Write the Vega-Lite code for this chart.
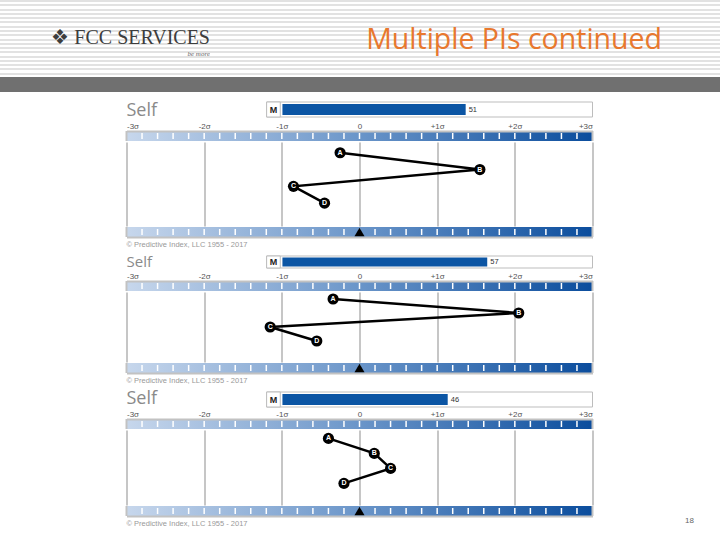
{
  "$schema": "https://vega.github.io/schema/vega-lite/v6.json",
  "background": "white",
  "padding": 0,
  "title": {"text": "18", "orient": "bottom", "anchor": "end", "offset": -11, "dx": -26, "fontSize": 8, "font": "Liberation Sans", "fontWeight": "normal", "color": "#666666"},
  "config": {"view": {"stroke": null}, "font": "Liberation Sans"},
  "datasets": {
    "ticks": [{"t": -2.8}, {"t": -2.6}, {"t": -2.4}, {"t": -2.2}, {"t": -2}, {"t": -1.8}, {"t": -1.6}, {"t": -1.4}, {"t": -1.2}, {"t": -1}, {"t": -0.8}, {"t": -0.6}, {"t": -0.4}, {"t": -0.2}, {"t": 0}, {"t": 0.2}, {"t": 0.4}, {"t": 0.6}, {"t": 0.8}, {"t": 1}, {"t": 1.2}, {"t": 1.4}, {"t": 1.6}, {"t": 1.8}, {"t": 2}, {"t": 2.2}, {"t": 2.4}, {"t": 2.6}, {"t": 2.8}],
    "edges": [{"t": -3}, {"t": 3}]
  },
  "spacing": 9,
  "center": true,
  "vconcat": [
    {
      "spacing": 0,
      "hconcat": [
        {
          "width": 210, "height": 92,
          "view": {"stroke": null, "fill": {"gradient": "linear", "x1": 0, "y1": 0, "x2": 0, "y2": 1, "stops": [
            {"offset":0,"color":"#e2e2e2"},{"offset":0.0217,"color":"#e2e2e2"},{"offset":0.0217,"color":"#ffffff"},{"offset":0.0465,"color":"#ffffff"},
            {"offset":0.0465,"color":"#e2e2e2"},{"offset":0.0683,"color":"#e2e2e2"},{"offset":0.0683,"color":"#ffffff"},{"offset":0.0930,"color":"#ffffff"},
            {"offset":0.0930,"color":"#e2e2e2"},{"offset":0.1148,"color":"#e2e2e2"},{"offset":0.1148,"color":"#ffffff"},{"offset":0.1396,"color":"#ffffff"},
            {"offset":0.1396,"color":"#e2e2e2"},{"offset":0.1613,"color":"#e2e2e2"},{"offset":0.1613,"color":"#ffffff"},{"offset":0.1861,"color":"#ffffff"},
            {"offset":0.1861,"color":"#e2e2e2"},{"offset":0.2078,"color":"#e2e2e2"},{"offset":0.2078,"color":"#ffffff"},{"offset":0.2326,"color":"#ffffff"},
            {"offset":0.2326,"color":"#e2e2e2"},{"offset":0.2543,"color":"#e2e2e2"},{"offset":0.2543,"color":"#ffffff"},{"offset":0.2791,"color":"#ffffff"},
            {"offset":0.2791,"color":"#e2e2e2"},{"offset":0.3009,"color":"#e2e2e2"},{"offset":0.3009,"color":"#ffffff"},{"offset":0.3257,"color":"#ffffff"},
            {"offset":0.3257,"color":"#e2e2e2"},{"offset":0.3474,"color":"#e2e2e2"},{"offset":0.3474,"color":"#ffffff"},{"offset":0.3722,"color":"#ffffff"},
            {"offset":0.3722,"color":"#e2e2e2"},{"offset":0.3939,"color":"#e2e2e2"},{"offset":0.3939,"color":"#ffffff"},{"offset":0.4187,"color":"#ffffff"},
            {"offset":0.4187,"color":"#e2e2e2"},{"offset":0.4404,"color":"#e2e2e2"},{"offset":0.4404,"color":"#ffffff"},{"offset":0.4652,"color":"#ffffff"},
            {"offset":0.4652,"color":"#e2e2e2"},{"offset":0.4870,"color":"#e2e2e2"},{"offset":0.4870,"color":"#ffffff"},{"offset":0.5117,"color":"#ffffff"},
            {"offset":0.5117,"color":"#e2e2e2"},{"offset":0.5335,"color":"#e2e2e2"},{"offset":0.5335,"color":"#ffffff"},{"offset":0.5583,"color":"#ffffff"},
            {"offset":0.5583,"color":"#e2e2e2"},{"offset":0.5800,"color":"#e2e2e2"},{"offset":0.5800,"color":"#ffffff"},{"offset":0.6048,"color":"#ffffff"},
            {"offset":0.6048,"color":"#e2e2e2"},{"offset":0.6265,"color":"#e2e2e2"},{"offset":0.6265,"color":"#ffffff"},{"offset":0.6513,"color":"#ffffff"},
            {"offset":0.6513,"color":"#e2e2e2"},{"offset":0.6730,"color":"#e2e2e2"},{"offset":0.6730,"color":"#ffffff"},{"offset":0.6978,"color":"#ffffff"},
            {"offset":0.6978,"color":"#e2e2e2"},{"offset":0.7196,"color":"#e2e2e2"},{"offset":0.7196,"color":"#ffffff"},{"offset":0.7443,"color":"#ffffff"},
            {"offset":0.7443,"color":"#e2e2e2"},{"offset":0.7661,"color":"#e2e2e2"},{"offset":0.7661,"color":"#ffffff"},{"offset":0.7909,"color":"#ffffff"},
            {"offset":0.7909,"color":"#e2e2e2"},{"offset":0.8126,"color":"#e2e2e2"},{"offset":0.8126,"color":"#ffffff"},{"offset":0.8370,"color":"#ffffff"},
            {"offset":0.8370,"color":"#707070"},{"offset":1,"color":"#707070"}]}},
          "title": {"text": "❖ FCC SERVICES", "subtitle": "be more", "anchor": "end", "frame": "group", "offset": -57, "font": "Liberation Serif", "fontSize": 20, "fontWeight": "normal", "color": "#3d3d3d", "subtitleFont": "Liberation Serif", "subtitleFontSize": 7, "subtitleFontStyle": "italic", "subtitleColor": "#666666", "subtitlePadding": 2},
          "data": {"values": [{"z": 0}]},
          "mark": {"type": "text", "text": ""},
          "encoding": {}
        },
        {
          "width": 510, "height": 92,
          "view": {"stroke": null, "fill": {"gradient": "linear", "x1": 0, "y1": 0, "x2": 0, "y2": 1, "stops": [
            {"offset":0,"color":"#e2e2e2"},{"offset":0.0217,"color":"#e2e2e2"},{"offset":0.0217,"color":"#ffffff"},{"offset":0.0465,"color":"#ffffff"},
            {"offset":0.0465,"color":"#e2e2e2"},{"offset":0.0683,"color":"#e2e2e2"},{"offset":0.0683,"color":"#ffffff"},{"offset":0.0930,"color":"#ffffff"},
            {"offset":0.0930,"color":"#e2e2e2"},{"offset":0.1148,"color":"#e2e2e2"},{"offset":0.1148,"color":"#ffffff"},{"offset":0.1396,"color":"#ffffff"},
            {"offset":0.1396,"color":"#e2e2e2"},{"offset":0.1613,"color":"#e2e2e2"},{"offset":0.1613,"color":"#ffffff"},{"offset":0.1861,"color":"#ffffff"},
            {"offset":0.1861,"color":"#e2e2e2"},{"offset":0.2078,"color":"#e2e2e2"},{"offset":0.2078,"color":"#ffffff"},{"offset":0.2326,"color":"#ffffff"},
            {"offset":0.2326,"color":"#e2e2e2"},{"offset":0.2543,"color":"#e2e2e2"},{"offset":0.2543,"color":"#ffffff"},{"offset":0.2791,"color":"#ffffff"},
            {"offset":0.2791,"color":"#e2e2e2"},{"offset":0.3009,"color":"#e2e2e2"},{"offset":0.3009,"color":"#ffffff"},{"offset":0.3257,"color":"#ffffff"},
            {"offset":0.3257,"color":"#e2e2e2"},{"offset":0.3474,"color":"#e2e2e2"},{"offset":0.3474,"color":"#ffffff"},{"offset":0.3722,"color":"#ffffff"},
            {"offset":0.3722,"color":"#e2e2e2"},{"offset":0.3939,"color":"#e2e2e2"},{"offset":0.3939,"color":"#ffffff"},{"offset":0.4187,"color":"#ffffff"},
            {"offset":0.4187,"color":"#e2e2e2"},{"offset":0.4404,"color":"#e2e2e2"},{"offset":0.4404,"color":"#ffffff"},{"offset":0.4652,"color":"#ffffff"},
            {"offset":0.4652,"color":"#e2e2e2"},{"offset":0.4870,"color":"#e2e2e2"},{"offset":0.4870,"color":"#ffffff"},{"offset":0.5117,"color":"#ffffff"},
            {"offset":0.5117,"color":"#e2e2e2"},{"offset":0.5335,"color":"#e2e2e2"},{"offset":0.5335,"color":"#ffffff"},{"offset":0.5583,"color":"#ffffff"},
            {"offset":0.5583,"color":"#e2e2e2"},{"offset":0.5800,"color":"#e2e2e2"},{"offset":0.5800,"color":"#ffffff"},{"offset":0.6048,"color":"#ffffff"},
            {"offset":0.6048,"color":"#e2e2e2"},{"offset":0.6265,"color":"#e2e2e2"},{"offset":0.6265,"color":"#ffffff"},{"offset":0.6513,"color":"#ffffff"},
            {"offset":0.6513,"color":"#e2e2e2"},{"offset":0.6730,"color":"#e2e2e2"},{"offset":0.6730,"color":"#ffffff"},{"offset":0.6978,"color":"#ffffff"},
            {"offset":0.6978,"color":"#e2e2e2"},{"offset":0.7196,"color":"#e2e2e2"},{"offset":0.7196,"color":"#ffffff"},{"offset":0.7443,"color":"#ffffff"},
            {"offset":0.7443,"color":"#e2e2e2"},{"offset":0.7661,"color":"#e2e2e2"},{"offset":0.7661,"color":"#ffffff"},{"offset":0.7909,"color":"#ffffff"},
            {"offset":0.7909,"color":"#e2e2e2"},{"offset":0.8126,"color":"#e2e2e2"},{"offset":0.8126,"color":"#ffffff"},{"offset":0.8370,"color":"#ffffff"},
            {"offset":0.8370,"color":"#707070"},{"offset":1,"color":"#707070"}]}},
          "title": {"text": "Multiple PIs continued", "anchor": "end", "frame": "group", "offset": -54, "dx": -58, "font": "Open Sans", "fontSize": 28.5, "fontWeight": "normal", "color": "#E8782E"},
          "data": {"values": [{"z": 0}]},
          "mark": {"type": "text", "text": ""},
          "encoding": {}
        }
      ]
    },
    {
      "spacing": 5,
      "center": true,
      "vconcat": [
        {
          "spacing": 2,
          "vconcat": [
            {
              "width": 466, "height": 15,
              "title": {"text": "Self", "anchor": "start", "frame": "group", "offset": -18, "font": "Open Sans", "fontSize": 18, "fontWeight": "normal", "color": "#8a8a8a"},
              "data": {"values": [{"m": 51}]},
              "layer": [
                {"mark": {"type": "rect", "fill": "white", "stroke": "#bdbdbd", "strokeWidth": 1}, "encoding": {"x": {"datum": -4.4, "type": "quantitative", "scale": {"domain": [-43.4, 86.3], "nice": false, "zero": false}, "axis": null}, "x2": {"datum": 86.3}}},
                {"mark": {"type": "rect", "fill": "white", "stroke": "#bdbdbd", "strokeWidth": 1}, "encoding": {"x": {"datum": -4.4, "type": "quantitative", "axis": null}, "x2": {"datum": -0.6}}},
                {"mark": {"type": "text", "text": "M", "fontSize": 9, "fontWeight": "bold", "color": "#222222"}, "encoding": {"x": {"datum": -2.5, "type": "quantitative", "axis": null}}},
                {"mark": {"type": "rule", "color": "#0b55a4", "strokeWidth": 11}, "encoding": {"x": {"field": "m", "type": "quantitative", "axis": null}, "x2": {"datum": 0}}},
                {"mark": {"type": "text", "align": "left", "dx": 3, "fontSize": 7.5, "color": "#333333"}, "encoding": {"x": {"field": "m", "type": "quantitative", "axis": null}, "text": {"field": "m", "type": "quantitative"}}}
              ]
            },
            {
              "spacing": 0,
              "vconcat": [
                {
                  "width": 466, "height": 10,
                  "view": {"stroke": null, "fill": {"gradient": "linear", "x1": 0, "y1": 0, "x2": 1, "y2": 0, "stops": [{"offset": 0, "color": "#c7d7ec"}, {"offset": 0.5, "color": "#6a95c9"}, {"offset": 1, "color": "#0b4d9d"}]}},
                  "encoding": {"x": {"field": "t", "type": "quantitative", "scale": {"domain": [-3, 3], "nice": false, "zero": false}, "axis": {"orient": "top", "values": [-3, -2, -1, 0, 1, 2, 3], "labelExpr": "datum.value == 0 ? '0' : (datum.value > 0 ? '+' : '') + datum.value + 'σ'", "labelFlush": true, "ticks": false, "grid": false, "domainColor": "#c2c2c2", "domainWidth": 2, "labelFontSize": 8, "labelColor": "#555555", "labelPadding": 1, "title": null}}},
                  "layer": [
                    {"data": {"name": "ticks"}, "mark": {"type": "tick", "color": "white", "size": 6, "thickness": 1.5, "opacity": 1}},
                    {"data": {"name": "edges"}, "mark": {"type": "rule", "color": "#c2c2c2", "strokeWidth": 2}}
                  ]
                },
                {
                  "width": 466, "height": 84,
                  "data": {"values": [{"factor": "A", "sigma": -0.25}, {"factor": "B", "sigma": 1.55}, {"factor": "C", "sigma": -0.85}, {"factor": "D", "sigma": -0.45}]},
                  "encoding": {
                    "x": {"field": "sigma", "type": "quantitative", "scale": {"domain": [-3, 3], "nice": false, "zero": false}, "axis": {"values": [-3, -2, -1, 0, 1, 2, 3], "grid": true, "gridColor": "#c6c6c6", "gridWidth": 2, "labels": false, "ticks": false, "domain": false, "title": null}},
                    "y": {"field": "factor", "type": "ordinal", "scale": {"type": "point", "padding": 1.24, "align": 0.32}, "axis": null}
                  },
                  "layer": [
                    {"mark": {"type": "line", "color": "black", "strokeWidth": 2.5}, "encoding": {"order": {"field": "factor", "type": "ordinal"}}},
                    {"mark": {"type": "circle", "size": 125, "color": "black", "opacity": 1}},
                    {"mark": {"type": "text", "color": "white", "fontSize": 7, "fontWeight": "bold"}, "encoding": {"text": {"field": "factor"}}}
                  ]
                },
                {
                  "width": 466, "height": 10,
                  "view": {"stroke": null, "fill": {"gradient": "linear", "x1": 0, "y1": 0, "x2": 1, "y2": 0, "stops": [{"offset": 0, "color": "#c7d7ec"}, {"offset": 0.5, "color": "#6a95c9"}, {"offset": 1, "color": "#0b4d9d"}]}},
                  "title": {"text": "© Predictive Index, LLC 1955 - 2017", "orient": "bottom", "anchor": "start", "frame": "group", "offset": 3, "fontSize": 7.5, "fontWeight": "normal", "color": "#999999"},
                  "encoding": {"x": {"field": "t", "type": "quantitative", "scale": {"domain": [-3, 3], "nice": false, "zero": false}, "axis": {"orient": "bottom", "labels": false, "ticks": false, "grid": false, "domainColor": "#c2c2c2", "domainWidth": 2, "title": null}}},
                  "layer": [
                    {"data": {"name": "ticks"}, "mark": {"type": "tick", "color": "white", "size": 6, "thickness": 1.5, "opacity": 1}},
                    {"data": {"name": "edges"}, "mark": {"type": "rule", "color": "#c2c2c2", "strokeWidth": 2}},
                    {"data": {"values": [{"t": 0}]}, "mark": {"type": "point", "shape": "triangle-up", "filled": true, "color": "black", "size": 100, "opacity": 1}}
                  ]
                }
              ]
            }
          ]
        },
        {
          "spacing": 2,
          "vconcat": [
            {
              "width": 466, "height": 12,
              "title": {"text": "Self", "anchor": "start", "frame": "group", "offset": -14, "font": "Open Sans", "fontSize": 15, "fontWeight": "normal", "color": "#8a8a8a"},
              "data": {"values": [{"m": 57}]},
              "layer": [
                {"mark": {"type": "rect", "fill": "white", "stroke": "#bdbdbd", "strokeWidth": 1}, "encoding": {"x": {"datum": -4.4, "type": "quantitative", "scale": {"domain": [-43.4, 86.3], "nice": false, "zero": false}, "axis": null}, "x2": {"datum": 86.3}}},
                {"mark": {"type": "rect", "fill": "white", "stroke": "#bdbdbd", "strokeWidth": 1}, "encoding": {"x": {"datum": -4.4, "type": "quantitative", "axis": null}, "x2": {"datum": -0.6}}},
                {"mark": {"type": "text", "text": "M", "fontSize": 9, "fontWeight": "bold", "color": "#222222"}, "encoding": {"x": {"datum": -2.5, "type": "quantitative", "axis": null}}},
                {"mark": {"type": "rule", "color": "#0b55a4", "strokeWidth": 9}, "encoding": {"x": {"field": "m", "type": "quantitative", "axis": null}, "x2": {"datum": 0}}},
                {"mark": {"type": "text", "align": "left", "dx": 3, "fontSize": 7.5, "color": "#333333"}, "encoding": {"x": {"field": "m", "type": "quantitative", "axis": null}, "text": {"field": "m", "type": "quantitative"}}}
              ]
            },
            {
              "spacing": 0,
              "vconcat": [
                {
                  "width": 466, "height": 10,
                  "view": {"stroke": null, "fill": {"gradient": "linear", "x1": 0, "y1": 0, "x2": 1, "y2": 0, "stops": [{"offset": 0, "color": "#c7d7ec"}, {"offset": 0.5, "color": "#6a95c9"}, {"offset": 1, "color": "#0b4d9d"}]}},
                  "encoding": {"x": {"field": "t", "type": "quantitative", "scale": {"domain": [-3, 3], "nice": false, "zero": false}, "axis": {"orient": "top", "values": [-3, -2, -1, 0, 1, 2, 3], "labelExpr": "datum.value == 0 ? '0' : (datum.value > 0 ? '+' : '') + datum.value + 'σ'", "labelFlush": true, "ticks": false, "grid": false, "domainColor": "#c2c2c2", "domainWidth": 2, "labelFontSize": 8, "labelColor": "#555555", "labelPadding": 1, "title": null}}},
                  "layer": [
                    {"data": {"name": "ticks"}, "mark": {"type": "tick", "color": "white", "size": 6, "thickness": 1.5, "opacity": 1}},
                    {"data": {"name": "edges"}, "mark": {"type": "rule", "color": "#c2c2c2", "strokeWidth": 2}}
                  ]
                },
                {
                  "width": 466, "height": 70,
                  "data": {"values": [{"factor": "A", "sigma": -0.34}, {"factor": "B", "sigma": 2.05}, {"factor": "C", "sigma": -1.15}, {"factor": "D", "sigma": -0.55}]},
                  "encoding": {
                    "x": {"field": "sigma", "type": "quantitative", "scale": {"domain": [-3, 3], "nice": false, "zero": false}, "axis": {"values": [-3, -2, -1, 0, 1, 2, 3], "grid": true, "gridColor": "#c6c6c6", "gridWidth": 2, "labels": false, "ticks": false, "domain": false, "title": null}},
                    "y": {"field": "factor", "type": "ordinal", "scale": {"type": "point", "padding": 1.08, "align": 0.25}, "axis": null}
                  },
                  "layer": [
                    {"mark": {"type": "line", "color": "black", "strokeWidth": 2.5}, "encoding": {"order": {"field": "factor", "type": "ordinal"}}},
                    {"mark": {"type": "circle", "size": 125, "color": "black", "opacity": 1}},
                    {"mark": {"type": "text", "color": "white", "fontSize": 7, "fontWeight": "bold"}, "encoding": {"text": {"field": "factor"}}}
                  ]
                },
                {
                  "width": 466, "height": 10,
                  "view": {"stroke": null, "fill": {"gradient": "linear", "x1": 0, "y1": 0, "x2": 1, "y2": 0, "stops": [{"offset": 0, "color": "#c7d7ec"}, {"offset": 0.5, "color": "#6a95c9"}, {"offset": 1, "color": "#0b4d9d"}]}},
                  "title": {"text": "© Predictive Index, LLC 1955 - 2017", "orient": "bottom", "anchor": "start", "frame": "group", "offset": 3, "fontSize": 7.5, "fontWeight": "normal", "color": "#999999"},
                  "encoding": {"x": {"field": "t", "type": "quantitative", "scale": {"domain": [-3, 3], "nice": false, "zero": false}, "axis": {"orient": "bottom", "labels": false, "ticks": false, "grid": false, "domainColor": "#c2c2c2", "domainWidth": 2, "title": null}}},
                  "layer": [
                    {"data": {"name": "ticks"}, "mark": {"type": "tick", "color": "white", "size": 6, "thickness": 1.5, "opacity": 1}},
                    {"data": {"name": "edges"}, "mark": {"type": "rule", "color": "#c2c2c2", "strokeWidth": 2}},
                    {"data": {"values": [{"t": 0}]}, "mark": {"type": "point", "shape": "triangle-up", "filled": true, "color": "black", "size": 100, "opacity": 1}}
                  ]
                }
              ]
            }
          ]
        },
        {
          "spacing": 2,
          "vconcat": [
            {
              "width": 466, "height": 15,
              "title": {"text": "Self", "anchor": "start", "frame": "group", "offset": -16.5, "font": "Open Sans", "fontSize": 18, "fontWeight": "normal", "color": "#8a8a8a"},
              "data": {"values": [{"m": 46}]},
              "layer": [
                {"mark": {"type": "rect", "fill": "white", "stroke": "#bdbdbd", "strokeWidth": 1}, "encoding": {"x": {"datum": -4.4, "type": "quantitative", "scale": {"domain": [-43.4, 86.3], "nice": false, "zero": false}, "axis": null}, "x2": {"datum": 86.3}}},
                {"mark": {"type": "rect", "fill": "white", "stroke": "#bdbdbd", "strokeWidth": 1}, "encoding": {"x": {"datum": -4.4, "type": "quantitative", "axis": null}, "x2": {"datum": -0.6}}},
                {"mark": {"type": "text", "text": "M", "fontSize": 9, "fontWeight": "bold", "color": "#222222"}, "encoding": {"x": {"datum": -2.5, "type": "quantitative", "axis": null}}},
                {"mark": {"type": "rule", "color": "#0b55a4", "strokeWidth": 11}, "encoding": {"x": {"field": "m", "type": "quantitative", "axis": null}, "x2": {"datum": 0}}},
                {"mark": {"type": "text", "align": "left", "dx": 3, "fontSize": 7.5, "color": "#333333"}, "encoding": {"x": {"field": "m", "type": "quantitative", "axis": null}, "text": {"field": "m", "type": "quantitative"}}}
              ]
            },
            {
              "spacing": 0,
              "vconcat": [
                {
                  "width": 466, "height": 10,
                  "view": {"stroke": null, "fill": {"gradient": "linear", "x1": 0, "y1": 0, "x2": 1, "y2": 0, "stops": [{"offset": 0, "color": "#c7d7ec"}, {"offset": 0.5, "color": "#6a95c9"}, {"offset": 1, "color": "#0b4d9d"}]}},
                  "encoding": {"x": {"field": "t", "type": "quantitative", "scale": {"domain": [-3, 3], "nice": false, "zero": false}, "axis": {"orient": "top", "values": [-3, -2, -1, 0, 1, 2, 3], "labelExpr": "datum.value == 0 ? '0' : (datum.value > 0 ? '+' : '') + datum.value + 'σ'", "labelFlush": true, "ticks": false, "grid": false, "domainColor": "#c2c2c2", "domainWidth": 2, "labelFontSize": 8, "labelColor": "#555555", "labelPadding": 1, "title": null}}},
                  "layer": [
                    {"data": {"name": "ticks"}, "mark": {"type": "tick", "color": "white", "size": 6, "thickness": 1.5, "opacity": 1}},
                    {"data": {"name": "edges"}, "mark": {"type": "rule", "color": "#c2c2c2", "strokeWidth": 2}}
                  ]
                },
                {
                  "width": 466, "height": 75,
                  "data": {"values": [{"factor": "A", "sigma": -0.4}, {"factor": "B", "sigma": 0.19}, {"factor": "C", "sigma": 0.4}, {"factor": "D", "sigma": -0.2}]},
                  "encoding": {
                    "x": {"field": "sigma", "type": "quantitative", "scale": {"domain": [-3, 3], "nice": false, "zero": false}, "axis": {"values": [-3, -2, -1, 0, 1, 2, 3], "grid": true, "gridColor": "#c6c6c6", "gridWidth": 2, "labels": false, "ticks": false, "domain": false, "title": null}},
                    "y": {"field": "factor", "type": "ordinal", "scale": {"type": "point", "padding": 1.12, "align": 0.28}, "axis": null}
                  },
                  "layer": [
                    {"mark": {"type": "line", "color": "black", "strokeWidth": 2.5}, "encoding": {"order": {"field": "factor", "type": "ordinal"}}},
                    {"mark": {"type": "circle", "size": 125, "color": "black", "opacity": 1}},
                    {"mark": {"type": "text", "color": "white", "fontSize": 7, "fontWeight": "bold"}, "encoding": {"text": {"field": "factor"}}}
                  ]
                },
                {
                  "width": 466, "height": 10,
                  "view": {"stroke": null, "fill": {"gradient": "linear", "x1": 0, "y1": 0, "x2": 1, "y2": 0, "stops": [{"offset": 0, "color": "#c7d7ec"}, {"offset": 0.5, "color": "#6a95c9"}, {"offset": 1, "color": "#0b4d9d"}]}},
                  "title": {"text": "© Predictive Index, LLC 1955 - 2017", "orient": "bottom", "anchor": "start", "frame": "group", "offset": 3, "fontSize": 7.5, "fontWeight": "normal", "color": "#999999"},
                  "encoding": {"x": {"field": "t", "type": "quantitative", "scale": {"domain": [-3, 3], "nice": false, "zero": false}, "axis": {"orient": "bottom", "labels": false, "ticks": false, "grid": false, "domainColor": "#c2c2c2", "domainWidth": 2, "title": null}}},
                  "layer": [
                    {"data": {"name": "ticks"}, "mark": {"type": "tick", "color": "white", "size": 6, "thickness": 1.5, "opacity": 1}},
                    {"data": {"name": "edges"}, "mark": {"type": "rule", "color": "#c2c2c2", "strokeWidth": 2}},
                    {"data": {"values": [{"t": 0}]}, "mark": {"type": "point", "shape": "triangle-up", "filled": true, "color": "black", "size": 100, "opacity": 1}}
                  ]
                }
              ]
            }
          ]
        }
      ]
    }
  ]
}
